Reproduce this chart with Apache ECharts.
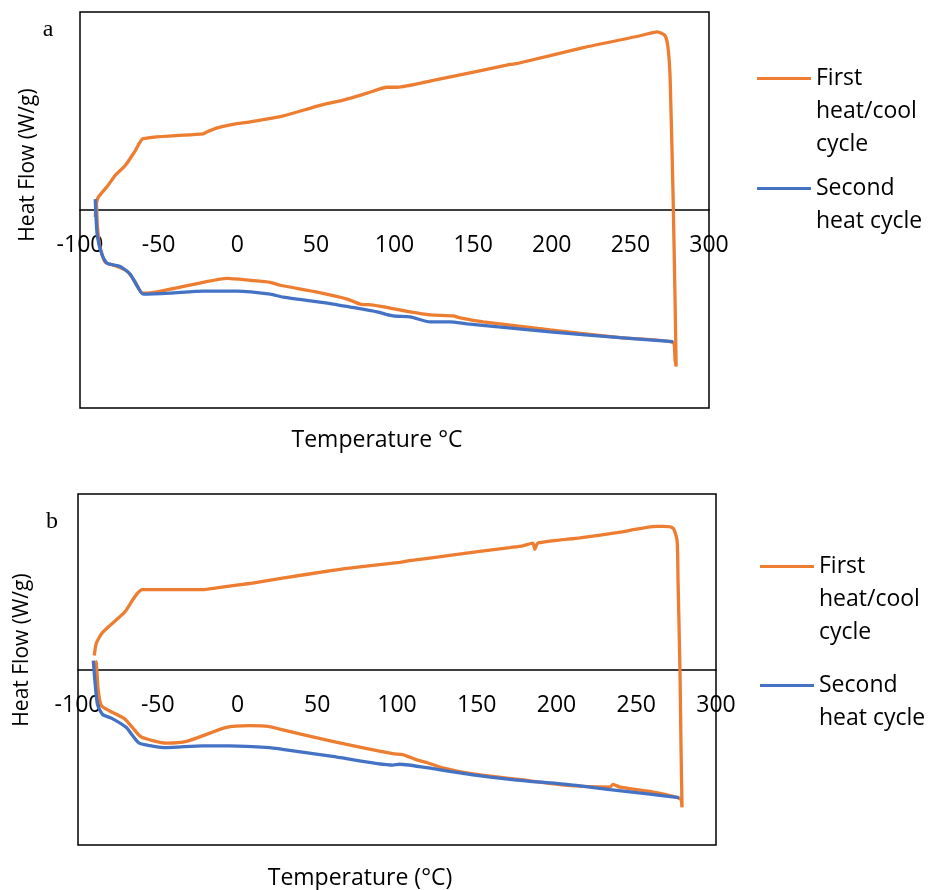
<!DOCTYPE html>
<html>
<head>
<meta charset="utf-8">
<script src="https://cdn.jsdelivr.net/npm/echarts@6/dist/echarts.min.js"></script>
<style>
    html, body { margin: 0; padding: 0; background: #fff; }
    #chart { width: 930px; height: 890px; }
</style>
</head>
<body>
<div id="chart"></div>
<script>
    // temperature (°C) / heat flow pairs, panel a
    var aFirst = [
        [-89.6, 0.11], [-89.0, -0.14], [-87.7, -0.34], [-85.8, -0.46], [-83.9, -0.53],
        [-76.3, -0.57], [-69.9, -0.62], [-64.8, -0.73], [-60.4, -0.84], [-57.2, -0.84],
        [-42.6, -0.80], [-21.6, -0.73], [-6.4, -0.69], [8.3, -0.71], [21.0, -0.73],
        [27.3, -0.76], [50.9, -0.83], [69.9, -0.90], [78.2, -0.95], [86.5, -0.96],
        [97.3, -0.99], [110.0, -1.03], [122.7, -1.06], [137.3, -1.07], [141.8, -1.09],
        [156.4, -1.13], [199.0, -1.21], [243.5, -1.29], [277.2, -1.34], [278.4, -1.51],
        [279.1, -1.58], [278.4, -0.90], [277.2, 0.11], [275.3, 1.32], [274.0, 1.63],
        [272.1, 1.76], [267.0, 1.80], [256.2, 1.76], [220.0, 1.64], [178.0, 1.48],
        [173.6, 1.47], [152.6, 1.40], [124.6, 1.31], [101.7, 1.24], [95.4, 1.24],
        [82.6, 1.18], [67.4, 1.11], [50.9, 1.05], [29.2, 0.95], [8.3, 0.89],
        [-4.5, 0.86], [-12.7, 0.83], [-19.1, 0.79], [-21.6, 0.77], [-59.8, 0.72],
        [-64.8, 0.60], [-71.2, 0.45], [-77.6, 0.35], [-82.6, 0.24], [-88.4, 0.13],
        [-89.6, 0.06], [-90.3, -0.07]
    ];
    var aSecond = [
        [-90.3, 0.11], [-89.0, -0.26], [-85.8, -0.46], [-82.6, -0.54], [-74.4, -0.57],
        [-68.0, -0.65], [-63.6, -0.77], [-59.8, -0.85], [-42.6, -0.84], [-21.6, -0.82],
        [0, -0.82], [21.0, -0.85], [29.2, -0.88], [61.0, -0.95], [71.8, -0.98],
        [89.0, -1.03], [99.2, -1.07], [110.0, -1.08], [122.7, -1.13], [135.4, -1.13],
        [146.2, -1.15], [199.0, -1.23], [243.5, -1.29], [277.2, -1.33]
    ];

    // panel b
    var bFirst = [
        [-89.1, 0.10], [-88.5, 0.07], [-87.3, -0.24], [-85.4, -0.41], [-80.4, -0.47],
        [-70.9, -0.56], [-65.9, -0.66], [-60.3, -0.77], [-44.6, -0.84], [-32.0, -0.82],
        [-6.9, -0.66], [7.5, -0.64], [20.1, -0.65], [26.4, -0.68], [59.6, -0.82],
        [97.3, -0.96], [103.6, -0.97], [112.4, -1.03], [118.6, -1.06], [128.7, -1.12],
        [147.5, -1.19], [175.1, -1.25], [206.5, -1.32], [233.5, -1.34], [235.4, -1.31],
        [239.8, -1.34], [258.6, -1.39], [277.4, -1.47], [278.7, -1.57], [278.1, -0.92],
        [277.4, 0.00], [276.2, 1.01], [275.6, 1.47], [273.1, 1.61], [266.8, 1.63],
        [263.0, 1.63], [237.9, 1.56], [214.7, 1.50], [188.3, 1.44], [186.4, 1.37],
        [185.2, 1.44], [178.9, 1.41], [170.7, 1.39], [133.1, 1.30], [108.0, 1.24],
        [101.7, 1.22], [76.6, 1.17], [59.6, 1.13], [28.2, 1.04], [7.5, 0.98],
        [-13.2, 0.93], [-22.0, 0.91], [-59.6, 0.91], [-70.9, 0.65], [-84.7, 0.42],
        [-88.5, 0.30], [-89.8, 0.16]
    ];
    var bSecond = [
        [-90.4, 0.10], [-87.9, -0.39], [-84.7, -0.51], [-78.5, -0.56], [-69.7, -0.66],
        [-65.9, -0.75], [-61.5, -0.84], [-44.6, -0.89], [-22.0, -0.87], [-5.0, -0.87],
        [20.1, -0.89], [28.2, -0.91], [59.6, -0.99], [97.3, -1.09], [101.7, -1.08],
        [122.4, -1.13], [147.5, -1.20], [175.1, -1.26], [206.5, -1.31], [233.5, -1.37],
        [258.6, -1.42], [276.8, -1.46]
    ];

    var seriesNames = ['First heat/cool cycle', 'Second heat cycle'];
    var legendLabels = ['First\nheat/cool\ncycle', 'Second\nheat cycle'];
    var colors = ['#ED7D31', '#4472C4'];

    var font = 'Open Sans';
    var myChart = echarts.init(document.getElementById('chart'));

    // axis sits in the middle of the plot box (y = 0), labels just under it
    function xAxisFor(gridIndex, halfHeight) {
        return {
            gridIndex: gridIndex,
            type: 'value',
            position: 'bottom',
            offset: -halfHeight,
            min: -100,
            max: 300,
            interval: 50,
            axisLine: {onZero: false, lineStyle: {color: '#000', width: 1.5}},
            axisTick: {show: false},
            splitLine: {show: false},
            axisLabel: {color: '#000', fontSize: 23, fontFamily: font, margin: 24}
        };
    }

    function yAxisFor(gridIndex) {
        return {
            gridIndex: gridIndex,
            type: 'value',
            min: -2,
            max: 2,
            axisLine: {show: false},
            axisTick: {show: false},
            axisLabel: {show: false},
            splitLine: {show: false}
        };
    }

    function lineSeries(name, data, idx, colorIdx) {
        return {
            name: name,
            type: 'line',
            xAxisIndex: idx,
            yAxisIndex: idx,
            data: data,
            showSymbol: false,
            symbol: 'none',
            smooth: 0.2,
            color: colors[colorIdx],
            lineStyle: {width: 3.3, color: colors[colorIdx]},
            animation: false
        };
    }

    function legendFor(name, left, top, h) {
        return {
            data: [name],
            left: left,
            top: top,
            padding: 0,
            itemWidth: 54,
            itemHeight: h,
            itemGap: 0,
            selectedMode: false,
            // thin line at the first text line of the box
            icon: 'path://M0,0 M54,' + h + ' M0,15 L54,15 L54,18 L0,18 Z',
            formatter: function (n) {
                return legendLabels[seriesNames.indexOf(n)];
            },
            textStyle: {color: '#000', fontSize: 23, lineHeight: 33, fontFamily: font, padding: [0, 0, 0, 0]}
        };
    }

    var option = {
        backgroundColor: '#fff',
        animation: false,
        grid: [
            {left: 80, top: 12, width: 629, height: 396, show: true, borderColor: '#000', borderWidth: 1.5},
            {left: 78, top: 494, width: 638, height: 351, show: true, borderColor: '#000', borderWidth: 1.5}
        ],
        xAxis: [xAxisFor(0, 198), xAxisFor(1, 175.5)],
        yAxis: [yAxisFor(0), yAxisFor(1)],
        legend: [
            legendFor(seriesNames[0], 757, 62, 99),
            legendFor(seriesNames[1], 757, 172, 66),
            legendFor(seriesNames[0], 760, 550, 99),
            legendFor(seriesNames[1], 760, 669, 66)
        ],
        graphic: [
            {type: 'text', x: 48, y: 30, style: {text: 'a', font: '24px "Liberation Serif"', fill: '#000', textAlign: 'center', textVerticalAlign: 'middle'}},
            {type: 'text', x: 52, y: 522, style: {text: 'b', font: '24px "Liberation Serif"', fill: '#000', textAlign: 'center', textVerticalAlign: 'middle'}},
            {type: 'text', x: 28, y: 165, rotation: Math.PI / 2, style: {text: 'Heat Flow (W/g)', font: '21px "Open Sans"', fill: '#000', textAlign: 'center', textVerticalAlign: 'middle'}},
            {type: 'text', x: 22, y: 650, rotation: Math.PI / 2, style: {text: 'Heat Flow (W/g)', font: '21px "Open Sans"', fill: '#000', textAlign: 'center', textVerticalAlign: 'middle'}},
            {type: 'text', x: 377, y: 440, style: {text: 'Temperature °C', font: '23px "Open Sans"', fill: '#000', textAlign: 'center', textVerticalAlign: 'middle'}},
            {type: 'text', x: 360, y: 878, style: {text: 'Temperature (°C)', font: '23px "Open Sans"', fill: '#000', textAlign: 'center', textVerticalAlign: 'middle'}}
        ],
        series: [
            lineSeries(seriesNames[0], aFirst, 0, 0),
            lineSeries(seriesNames[1], aSecond, 0, 1),
            lineSeries(seriesNames[0], bFirst, 1, 0),
            lineSeries(seriesNames[1], bSecond, 1, 1)
        ]
    };

    option && myChart.setOption(option);
</script>
</body>
</html>
